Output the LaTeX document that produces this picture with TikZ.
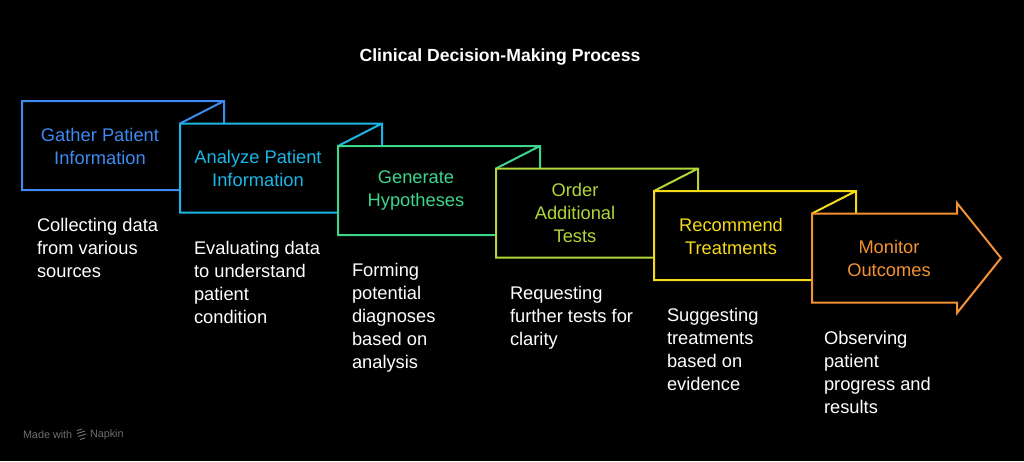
\documentclass[tikz,border=0pt]{standalone}
\usepackage[svgnames]{xcolor}
\usepackage{fontspec}
\setmainfont{Liberation Sans}
\definecolor{GatherBlue}{HTML}{3D8BF2}
\definecolor{AnalyzeCyan}{HTML}{19B6E6}
\definecolor{HypoGreen}{HTML}{3DD68C}
\definecolor{OrderLime}{HTML}{B2D63A}
\definecolor{TreatYellow}{HTML}{F5DA1A}
\definecolor{MonitorOrange}{HTML}{F39233}
\definecolor{FootGray}{HTML}{6E6E6E}

\begin{document}
\begin{tikzpicture}[x=1pt, y=-1pt, line width=2pt, line join=miter,
      every node/.append style={inner sep=0pt, font=\fontsize{18.3}{23}\selectfont}]
	  \tikzstyle{lbl} = [align=center, anchor=center]
	  \tikzstyle{desc} = [align=left, anchor=north west, color=white]
	  \fill[black] (0,0) rectangle (1024,461);
	  \useasboundingbox (0,0) rectangle (1024,461);
	  \node (title) [color=white, font=\fontsize{17.6}{20}\selectfont\bfseries] at (500,57) {Clinical Decision-Making Process};
	  % folded steps
	  \draw[color=GatherBlue] (180,190) -- (22,190) -- (22,101) -- (224,101) -- (224,123.5) (224,101) -- (180,123.5);
	  \draw[color=AnalyzeCyan] (338,212.5) -- (180,212.5) -- (180,123.5) -- (382,123.5) -- (382,146) (382,123.5) -- (338,146);
	  \draw[color=HypoGreen] (496,235) -- (338,235) -- (338,146) -- (540,146) -- (540,168.5) (540,146) -- (496,168.5);
	  \draw[color=OrderLime] (654,257.5) -- (496,257.5) -- (496,168.5) -- (698,168.5) -- (698,191) (698,168.5) -- (654,191);
	  \draw[color=TreatYellow] (812,280) -- (654,280) -- (654,191) -- (856,191) -- (856,213.5) (856,191) -- (812,213.5);
	  \draw[color=MonitorOrange] (812,213.5) -- (957,213.5) -- (957,203) -- (1001,258) -- (957,313) -- (957,302.5) -- (812,302.5) -- cycle;
	  % step labels
	  \node (l_1) [lbl, color=GatherBlue] at (100,146) {Gather Patient\\Information};
	  \node (l_2) [lbl, color=AnalyzeCyan] at (258,168) {Analyze Patient\\Information};
	  \node (l_3) [lbl, color=HypoGreen] at (416,191) {Generate\\Hypotheses};
	  \node (l_4) [lbl, color=OrderLime] at (575,213) {Order\\Additional\\Tests};
	  \node (l_5) [lbl, color=TreatYellow] at (731,236) {Recommend\\Treatments};
	  \node (l_6) [lbl, color=MonitorOrange] at (889,258) {Monitor\\Outcomes};
	  % descriptions
	  \node (d_1) [desc] at (36,217) {Collecting data\\from various\\sources};
	  \node (d_2) [desc] at (193,240) {Evaluating data\\to understand\\patient\\condition};
	  \node (d_3) [desc] at (351,262) {Forming\\potential\\diagnoses\\based on\\analysis};
	  \node (d_4) [desc] at (509,285) {Requesting\\further tests for\\clarity};
	  \node (d_5) [desc] at (666,307) {Suggesting\\treatments\\based on\\evidence};
	  \node (d_6) [desc] at (823,330) {Observing\\patient\\progress and\\results};
	  % footer
	  \node (made) [anchor=west, color=FootGray, font=\fontsize{10.8}{12}\selectfont] at (22,435) {Made with};
	  \draw[color=FootGray, line width=1pt] (77,430.5) -- (82,429) (77,433.5) -- (85,431) (78,436.5) -- (86,434) (80,439.5) -- (85,438);
	  \node (napkin) [anchor=west, color=FootGray, font=\fontsize{10.8}{12}\selectfont] at (89,435) {Napkin};
	\end{tikzpicture}
\end{document}
